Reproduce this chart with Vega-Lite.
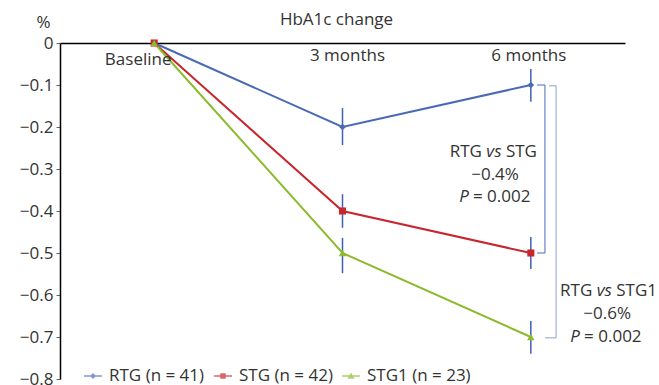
{
  "$schema": "https://vega.github.io/schema/vega-lite/v6.json",
  "width": 565,
  "height": 336,
  "autosize": "none",
  "padding": {"left": 60, "top": 43, "right": 34, "bottom": 6},
  "background": "white",
  "config": {
    "view": {"stroke": null},
    "font": "Open Sans",
    "text": {"font": "Open Sans", "fontSize": 17, "color": "#333333"},
    "legend": {
      "orient": "none", "legendX": 24, "legendY": 324,
      "direction": "horizontal", "title": null,
      "symbolSize": 324, "symbolStrokeWidth": 0,
      "labelFontSize": 17, "labelColor": "#333333", "labelFont": "Open Sans",
      "labelOffset": 7, "columnPadding": 9
    }
  },
  "datasets": {
    "points": [
      {"time": "Baseline", "t": 0.5, "group": "RTG (n = 41)", "value": 0},
      {"time": "3 months", "t": 1.5, "group": "RTG (n = 41)", "value": -0.2, "lo": -0.243, "hi": -0.155},
      {"time": "6 months", "t": 2.5, "group": "RTG (n = 41)", "value": -0.1, "lo": -0.14, "hi": -0.062},
      {"time": "Baseline", "t": 0.5, "group": "STG (n = 42)", "value": 0},
      {"time": "3 months", "t": 1.5, "group": "STG (n = 42)", "value": -0.4, "lo": -0.44, "hi": -0.36},
      {"time": "6 months", "t": 2.5, "group": "STG (n = 42)", "value": -0.5, "lo": -0.538, "hi": -0.462},
      {"time": "Baseline", "t": 0.5, "group": "STG1 (n = 23)", "value": 0},
      {"time": "3 months", "t": 1.5, "group": "STG1 (n = 23)", "value": -0.5, "lo": -0.548, "hi": -0.464},
      {"time": "6 months", "t": 2.5, "group": "STG1 (n = 23)", "value": -0.7, "lo": -0.74, "hi": -0.662}
    ],
    "brackets": [
      {"b": 1, "x": 2.533, "x2": 2.575, "y": -0.1, "y2": -0.1},
      {"b": 1, "x": 2.575, "x2": 2.575, "y": -0.1, "y2": -0.5},
      {"b": 1, "x": 2.533, "x2": 2.575, "y": -0.5, "y2": -0.5},
      {"b": 2, "x": 2.597, "x2": 2.634, "y": -0.102, "y2": -0.102},
      {"b": 2, "x": 2.634, "x2": 2.634, "y": -0.102, "y2": -0.702},
      {"b": 2, "x": 2.575, "x2": 2.634, "y": -0.702, "y2": -0.702}
    ],
    "notes": [
      {"x": 2.304, "y": -0.2595, "a": "RTG", "i": "vs", "b": "STG"},
      {"x": 2.31, "y": -0.3143, "c": "−0.4%"},
      {"x": 2.145, "y": -0.3667, "i": "P", "b": "= 0.002"},
      {"x": 2.89, "y": -0.59, "a": "RTG", "i": "vs", "b": "STG1"},
      {"x": 2.905, "y": -0.645, "c": "−0.6%"},
      {"x": 2.735, "y": -0.70, "i": "P", "b": "= 0.002"}
    ]
  },
  "layer": [
    {
      "data": {"name": "points"},
      "mark": {"type": "line", "strokeWidth": 2},
      "encoding": {
        "x": {
          "field": "t", "type": "quantitative",
          "scale": {"domain": [0, 3], "nice": false, "zero": false},
          "axis": {"orient": "top", "labels": false, "ticks": false, "grid": false, "title": null, "domainColor": "#000000", "domainWidth": 1.5}
        },
        "y": {
          "field": "value", "type": "quantitative",
          "scale": {"domain": [-0.8, 0], "nice": false},
          "axis": {
            "values": [0, -0.1, -0.2, -0.3, -0.4, -0.5, -0.6, -0.7, -0.8],
            "labelExpr": "datum.value == 0 ? '0' : replace(format(datum.value, '.1f'), '-', '−')",
            "grid": false,
            "domainColor": "#000000", "domainWidth": 1.5,
            "tickColor": "#666666", "tickSize": 4,
            "labelFontSize": 17, "labelColor": "#333333", "labelFont": "Open Sans", "labelPadding": 3,
            "title": "%", "titleAngle": 0, "titleX": -17, "titleY": -21,
            "titleAlign": "center", "titleBaseline": "middle",
            "titleFontSize": 17, "titleFontWeight": "normal", "titleColor": "#333333", "titleFont": "Open Sans"
          }
        },
        "color": {
          "field": "group", "type": "nominal",
          "scale": {"domain": ["RTG (n = 41)", "STG (n = 42)", "STG1 (n = 23)"], "range": ["#4a6ab4", "#c8262d", "#8cbb2e"]}
        }
      }
    },
    {
      "data": {"name": "points"},
      "transform": [{"filter": "false"}],
      "mark": {"type": "point", "filled": true},
      "encoding": {
        "x": {"field": "t", "type": "quantitative"},
        "y": {"field": "value", "type": "quantitative"},
        "color": {"field": "group", "type": "nominal"},
        "shape": {
          "field": "group", "type": "nominal",
          "scale": {
            "domain": ["RTG (n = 41)", "STG (n = 42)", "STG1 (n = 23)"],
            "range": [
              "M-1,-0.07H1V0.07H-1Z M0,-0.33L0.33,0L0,0.33L-0.33,0Z",
              "M-1,-0.07H1V0.07H-1Z M-0.3,-0.3H0.3V0.3H-0.3Z",
              "M-1,-0.07H1V0.07H-1Z M0,-0.38L0.4,0.3H-0.4Z"
            ]
          }
        }
      }
    },
    {
      "data": {"name": "points"},
      "transform": [{"filter": "datum.lo != null"}],
      "mark": {"type": "rule", "color": "#3f5fb5", "strokeWidth": 1.5},
      "encoding": {
        "x": {"field": "t", "type": "quantitative"},
        "y": {"field": "lo", "type": "quantitative"},
        "y2": {"field": "hi"}
      }
    },
    {
      "data": {"name": "points"},
      "transform": [{"filter": "datum.group == 'RTG (n = 41)'"}],
      "mark": {"type": "point", "filled": true, "opacity": 1, "shape": "diamond", "size": 45, "color": "#4a6ab4"},
      "encoding": {
        "x": {"field": "t", "type": "quantitative"},
        "y": {"field": "value", "type": "quantitative"}
      }
    },
    {
      "data": {"name": "points"},
      "transform": [{"filter": "datum.group == 'STG (n = 42)'"}],
      "mark": {"type": "point", "filled": true, "opacity": 1, "shape": "square", "size": 50, "color": "#c8262d"},
      "encoding": {
        "x": {"field": "t", "type": "quantitative"},
        "y": {"field": "value", "type": "quantitative"}
      }
    },
    {
      "data": {"name": "points"},
      "transform": [{"filter": "datum.group == 'STG1 (n = 23)'"}],
      "mark": {"type": "point", "filled": true, "opacity": 1, "shape": "triangle-up", "size": 55, "color": "#8cbb2e"},
      "encoding": {
        "x": {"field": "t", "type": "quantitative"},
        "y": {"field": "value", "type": "quantitative"}
      }
    },
    {
      "data": {"name": "points"},
      "transform": [{"filter": "datum.group == 'RTG (n = 41)'"}],
      "mark": {
        "type": "text", "fontSize": 17, "color": "#333333", "align": "center", "baseline": "middle",
        "dx": {"expr": "datum.time == 'Baseline' ? -16 : datum.time == '3 months' ? 5 : -2"},
        "dy": {"expr": "datum.time == 'Baseline' ? 4 : 0"}
      },
      "encoding": {
        "x": {"field": "t", "type": "quantitative"},
        "y": {"datum": -0.031},
        "text": {"field": "time"}
      }
    },
    {
      "data": {"values": [{"label": "HbA1c change"}]},
      "mark": {"type": "text", "fontSize": 17, "color": "#333333", "align": "center", "baseline": "middle", "dx": -6, "dy": -23},
      "encoding": {
        "x": {"datum": 1.5},
        "y": {"datum": 0},
        "text": {"field": "label"}
      }
    },
    {
      "data": {"name": "brackets"},
      "transform": [{"filter": "datum.b == 1"}],
      "mark": {"type": "rule", "strokeWidth": 1, "color": "#4a68b4"},
      "encoding": {
        "x": {"field": "x", "type": "quantitative"},
        "x2": {"field": "x2"},
        "y": {"field": "y", "type": "quantitative"},
        "y2": {"field": "y2"}
      }
    },
    {
      "data": {"name": "brackets"},
      "transform": [{"filter": "datum.b == 2"}],
      "mark": {"type": "rule", "strokeWidth": 1, "color": "#8ea2d2"},
      "encoding": {
        "x": {"field": "x", "type": "quantitative"},
        "x2": {"field": "x2"},
        "y": {"field": "y", "type": "quantitative"},
        "y2": {"field": "y2"}
      }
    },
    {
      "data": {"name": "notes"},
      "transform": [{"filter": "datum.a != null"}],
      "mark": {"type": "text", "fontSize": 17, "color": "#333333", "align": "right", "baseline": "middle", "dx": -12},
      "encoding": {
        "x": {"field": "x", "type": "quantitative"},
        "y": {"field": "y", "type": "quantitative"},
        "text": {"field": "a"}
      }
    },
    {
      "data": {"name": "notes"},
      "transform": [{"filter": "datum.i != null"}],
      "mark": {"type": "text", "fontSize": 17, "fontStyle": "italic", "color": "#333333", "align": "center", "baseline": "middle"},
      "encoding": {
        "x": {"field": "x", "type": "quantitative"},
        "y": {"field": "y", "type": "quantitative"},
        "text": {"field": "i"}
      }
    },
    {
      "data": {"name": "notes"},
      "transform": [{"filter": "datum.b != null"}],
      "mark": {"type": "text", "fontSize": 17, "color": "#333333", "align": "left", "baseline": "middle", "dx": {"expr": "datum.i == 'vs' ? 12 : 9"}},
      "encoding": {
        "x": {"field": "x", "type": "quantitative"},
        "y": {"field": "y", "type": "quantitative"},
        "text": {"field": "b"}
      }
    },
    {
      "data": {"name": "notes"},
      "transform": [{"filter": "datum.c != null"}],
      "mark": {"type": "text", "fontSize": 17, "color": "#333333", "align": "center", "baseline": "middle"},
      "encoding": {
        "x": {"field": "x", "type": "quantitative"},
        "y": {"field": "y", "type": "quantitative"},
        "text": {"field": "c"}
      }
    }
  ]
}
